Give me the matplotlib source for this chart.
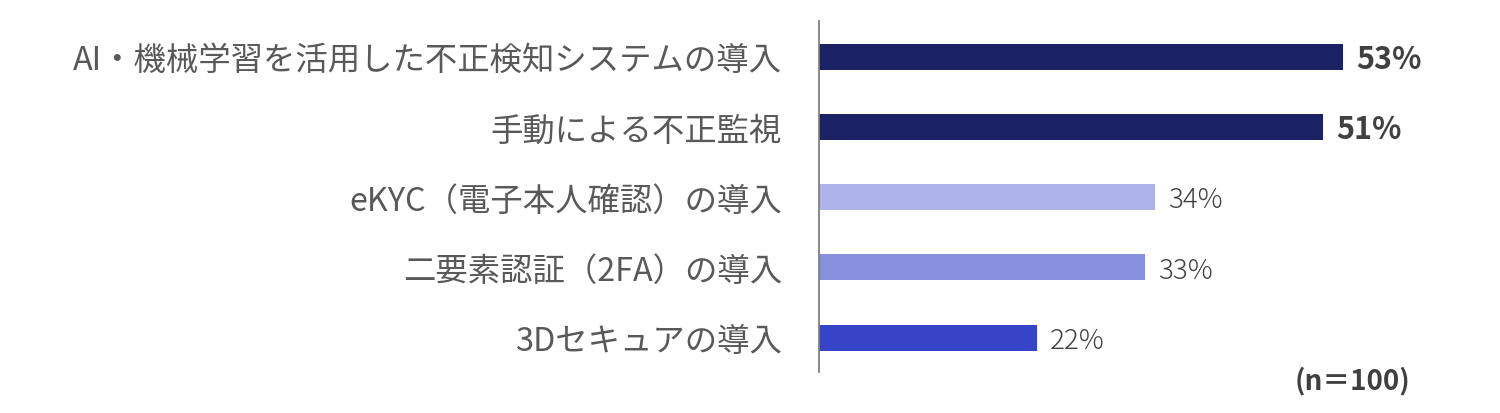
import matplotlib
matplotlib.use("Agg")
import matplotlib.pyplot as plt

plt.rcParams['font.family'] = ['Noto Sans CJK JP', 'DejaVu Sans']

categories = [
    "AI・機械学習を活用した不正検知システムの導入",
    "手動による不正監視",
    "eKYC（電子本人確認）の導入",
    "二要素認証（2FA）の導入",
    "3Dセキュアの導入",
]
values = [53, 51, 34, 33, 22]
value_labels = ["53%", "51%", "34%", "33%", "22%"]
bold_flags = [True, True, False, False, False]
colors = ["#1B2263", "#1B2263", "#AEB3E8", "#8690DC", "#3645C8"]
note = "(n＝100)"

W, H = 1500, 414
fig = plt.figure(figsize=(W / 100, H / 100), dpi=100)
left = 819 / W
right = 1472 / W
top_px, bot_px = 22, 373
ax = fig.add_axes([left, (H - bot_px) / H, right - left, (bot_px - top_px) / H])

ypos = list(range(len(categories)))
ax.barh(ypos, values, height=0.37, color=colors)
ax.set_xlim(0, (1472 - 819) / 9.887)
ax.set_ylim(4.49, -0.51)

for y, v, lab, b in zip(ypos, values, value_labels, bold_flags):
    ax.text(v + 1.35, y + 0.03, lab, va='center', ha='left',
            fontsize=22 if b else 20, fontweight='bold' if b else 'light',
            color='#404040')

ax.set_yticks(ypos)
ax.set_yticklabels(categories, fontsize=23.3, color='#595959')
ax.tick_params(axis='y', length=0, pad=26.6)
ax.set_xticks([])
for s in ['top', 'right', 'bottom']:
    ax.spines[s].set_visible(False)
ax.spines['left'].set_color('#808080')
ax.spines['left'].set_linewidth(1.3)

fig.text(1410 / W, 1 - 381 / H, note, ha='right', va='center',
         fontsize=20, fontweight='bold', color='#404040')

fig.savefig("out.png", dpi=100)
